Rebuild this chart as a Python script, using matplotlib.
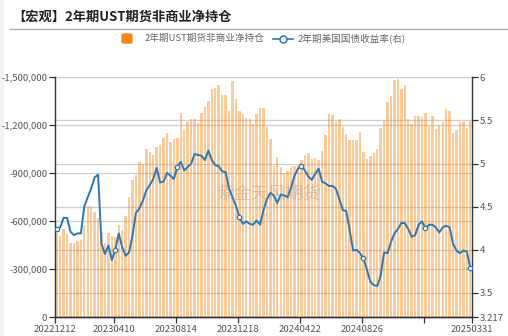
import numpy as np
import pandas as pd
import matplotlib
matplotlib.use('Agg')
import matplotlib.pyplot as plt
import matplotlib.patches as mpatches
import matplotlib.transforms as mtransforms
from matplotlib.lines import Line2D

plt.rcParams['font.family'] = ['Noto Sans CJK SC', 'DejaVu Sans']

# weekly categories
dates = pd.date_range('2022-12-12', periods=121, freq='7D').strftime('%Y%m%d').tolist()

# 2y UST futures non-commercial net position, thousand contracts (net short)
net_short_k = [
    525, 510, 552, 521, 462, 466, 477, 483, 577, 696, 696, 660, 623, 531, 466, 525, 508, 504, 577, 546, 635, 754, 858, 889,
    973, 960, 1050, 1031, 1014, 1063, 1077, 1119, 1150, 1098, 1113, 1119, 1275, 1171, 1219, 1241, 1241, 1216, 1279, 1316,
    1354, 1425, 1431, 1454,
    1389, 1389, 1291, 1479, 1363, 1291, 1269, 1244, 1239, 1208, 1269, 1308, 1308, 1191, 1113, 946, 1000, 941, 904, 916,
    938, 946, 952, 983, 1016,
    1025, 988, 994, 983, 1039, 1138, 1269, 1264, 1223, 1238, 1188, 1146, 1108, 1108, 1108, 1156, 1035, 988, 1008, 1025,
    1050, 1181, 1229, 1348,
    1385, 1483, 1488, 1425, 1452, 1238, 1208, 1258, 1260, 1252, 1275, 1196, 1258, 1175, 1202, 1221, 1300, 1291, 1154,
    1173, 1221, 1221, 1186, 1229,
]

# 2y treasury yield, %
yield_2y = [
    4.24, 4.26, 4.37, 4.37, 4.21, 4.17, 4.19, 4.19, 4.50, 4.61, 4.71, 4.84, 4.87, 4.07, 3.95, 4.05, 3.88, 4.00, 4.19, 4.03,
    3.93, 3.97, 4.17, 4.43,
    4.48, 4.57, 4.69, 4.75, 4.82, 4.95, 4.78, 4.79, 4.89, 4.86, 4.82, 4.96, 5.02, 4.92, 4.96, 5.00, 5.11, 5.10, 5.09, 5.04,
    5.15, 5.04, 4.98, 4.97,
    4.91, 4.90, 4.71, 4.61, 4.51, 4.38, 4.30, 4.33, 4.30, 4.29, 4.34, 4.29, 4.46, 4.59, 4.66, 4.63, 4.54, 4.64, 4.63, 4.61,
    4.72, 4.86, 4.94, 4.97, 4.92,
    4.85, 4.81, 4.88, 4.94, 4.79, 4.77, 4.74, 4.74, 4.71, 4.59, 4.46, 4.45, 4.23, 3.99, 4.00, 3.96, 3.90, 3.77, 3.63, 3.59,
    3.58, 3.70, 3.97, 3.96,
    4.09, 4.19, 4.24, 4.31, 4.31, 4.24, 4.15, 4.17, 4.29, 4.33, 4.25, 4.29, 4.29, 4.26, 4.20, 4.26, 4.28, 4.26, 4.07,
    3.99, 3.96, 3.99, 3.98, 3.79,
]

label_idx = [0, 17, 35, 53, 71, 89, 107, 120]
left_ticks = [0, -300000, -600000, -900000, -1200000, -1500000]
right_ticks = [3.217, 3.5, 4, 4.5, 5, 5.5, 6]

net_pos = -np.array(net_short_k) * 1000
x = np.arange(len(dates))

W, H = 508, 336
fig = plt.figure(figsize=(W / 100, H / 100), dpi=100)
fig.patches.append(mpatches.Rectangle((0, 0), 3 / W, 1, transform=fig.transFigure,
                                      color='#f2f2f2', zorder=-5))
ax = fig.add_axes([55 / W, (H - 317.3) / H, (472 - 55) / W, (317.3 - 77.3) / H])
ax2 = ax.twinx()
ax.patch.set_alpha(0)

grid_c = '#cfcfcf'
txt_c = '#555555'
bar_c = '#FF8A1F'
line_c = '#2A78B6'

ax.bar(x, net_pos, width=0.7, color=bar_c, alpha=0.45, zorder=2, linewidth=0)
ax.set_ylim(0, -1500000)
ax.set_yticks(left_ticks)
ax.set_yticklabels(['{:,.0f}'.format(v) for v in left_ticks])
ax.set_xlim(-0.5, len(dates) - 0.5)
ax.grid(axis='y', color=grid_c, lw=0.9, zorder=0)
ax.set_axisbelow(True)

# right-axis grid drawn under the bars
blend = mtransforms.blended_transform_factory(ax.transAxes, ax2.transData)
for r in right_ticks[1:]:
    ax.plot([0, 1], [r, r], transform=blend, color=grid_c, lw=0.9, zorder=0.5)

xt = [i - 0.5 for i in label_idx[:-1]] + [len(dates) - 0.5]
xl = [dates[i] for i in label_idx]
xl[6] = ''
ax.set_xticks(xt)
ax.set_xticklabels(xl)

ax2.plot(x, yield_2y, color=line_c, lw=1.4, zorder=3, marker='o', markevery=label_idx,
         markersize=3.2, markerfacecolor='white', markeredgecolor=line_c, markeredgewidth=0.9)
ax2.set_ylim(3.217, 6)
ax2.set_yticks(right_ticks)
ax2.set_yticklabels(['3.217', '3.5', '4', '4.5', '5', '5.5', '6'])

for a in (ax, ax2):
    a.spines['top'].set_visible(False)
    for s in ('left', 'right', 'bottom'):
        a.spines[s].set_color('#333333')
        a.spines[s].set_linewidth(1.0)
    a.tick_params(axis='both', colors='#333333', labelcolor=txt_c, labelsize=6.9, length=4, width=0.9, pad=1.5)
ax2.spines['left'].set_visible(False)
ax.spines['right'].set_visible(False)

# watermark
fig.text(268 / W, (H - 194) / H, '紫金天风期货', fontsize=12.5, color='#8a8a8a', alpha=0.35,
         ha='center', va='center')

# title and rule
fig.text(12 / W, (H - 16.7) / H, '【宏观】2年期UST期货非商业净持仓', fontsize=9.5, fontweight='bold',
         color='#222222', ha='left', va='center')
fig.add_artist(Line2D([10 / W, 1], [(H - 28.5) / H] * 2, color='#aaaaaa', lw=1))

# legend
ly = (H - 38.5) / H
fig.patches.append(mpatches.FancyBboxPatch((122, H - 43), 10, 9, boxstyle='round,pad=0,rounding_size=1.5',
                                           transform=mtransforms.IdentityTransform(), color='#FF8514'))
fig.text(145 / W, ly, '2年期UST期货非商业净持仓', fontsize=6.9, color='#666666', ha='left', va='center')
fig.add_artist(Line2D([273 / W, 293 / W], [ly, ly], color=line_c, lw=1.2))
fig.add_artist(Line2D([283 / W], [ly], marker='o', markersize=5, markerfacecolor='white',
                      markeredgecolor=line_c, markeredgewidth=1.1))
fig.text(298 / W, ly, '2年期美国国债收益率(右)', fontsize=6.9, color='#666666', ha='left', va='center')

fig.savefig('out.png', dpi=100)
